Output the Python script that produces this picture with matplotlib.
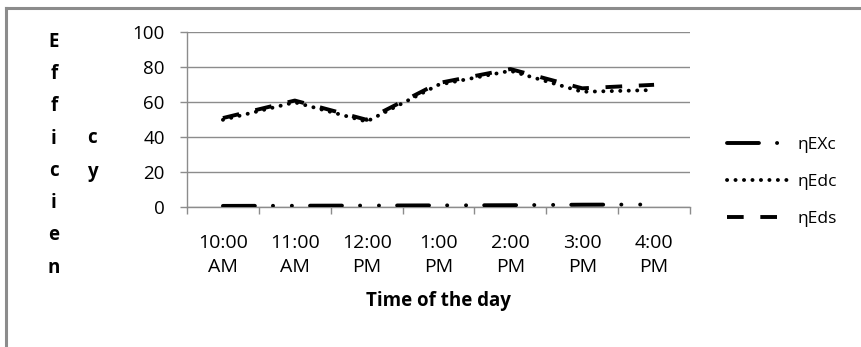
import matplotlib
matplotlib.use("Agg")
import matplotlib.pyplot as plt
from matplotlib.lines import Line2D

plt.rcParams["font.family"] = ["Open Sans", "DejaVu Sans"]
plt.rcParams["lines.scale_dashes"] = False

# Hourly efficiency readings
times = ["10:00\nAM", "11:00\nAM", "12:00\nPM", "1:00\nPM", "2:00\nPM", "3:00\nPM", "4:00\nPM"]
eta_exc = [0.8, 0.9, 1.0, 1.1, 1.2, 1.5, 1.6]
eta_edc = [50, 60, 49, 70, 78, 66, 67]
eta_eds = [51, 61, 50, 71, 79, 68, 70]
series_names = ["ηEXc", "ηEdc", "ηEds"]
y_ticks = [0, 20, 40, 60, 80, 100]

W, H = 862, 347
fig = plt.figure(figsize=(W / 100, H / 100), dpi=100)
ax = fig.add_axes([187 / W, 1 - 207.3 / H, (690 - 187) / W, (207.3 - 32.3) / H])

# Outer chart frame (only the top and left edges fall inside the image)
frame_kw = dict(color="#8c8c8c", lw=2.2, transform=fig.transFigure)
fig.add_artist(Line2D([6 / W, 6 / W], [0, 1 - 8 / H], **frame_kw))
fig.add_artist(Line2D([6 / W, 1], [1 - 8 / H, 1 - 8 / H], **frame_kw))

x = range(len(times))
lw = 2.8
ax.plot(x, eta_exc, color="black", lw=lw, dashes=(23, 13, 0.1, 13.5, 0.1, 13),
        dash_capstyle="round", label=series_names[0], zorder=3)
ax.plot(x, eta_edc, color="black", lw=lw, dashes=(0.1, 6.0),
        dash_capstyle="round", label=series_names[1], zorder=3)
ax.plot(x, eta_eds, color="black", lw=lw, dashes=(12, 12),
        dash_capstyle="butt", label=series_names[2], zorder=3)

ax.set_xlim(-0.5, len(times) - 0.5)
ax.set_ylim(0, 100)
ax.set_yticks(y_ticks)
ax.yaxis.grid(True, color="#8c8c8c", lw=1.0)
ax.set_axisbelow(True)

ax.set_xticks(list(x))
ax.set_xticklabels(times, fontsize=14, linespacing=1.45)
ax.set_xticks([i - 0.5 for i in range(len(times) + 1)], minor=True)
ax.tick_params(axis="x", which="major", length=0, pad=19)
ax.tick_params(axis="x", which="minor", length=5, color="#8c8c8c", width=1)
ax.tick_params(axis="y", length=5, color="#8c8c8c", width=1, labelsize=13.5, pad=11)

for side in ("top", "right"):
    ax.spines[side].set_visible(False)
for side in ("left", "bottom"):
    ax.spines[side].set_color("#8c8c8c")
    ax.spines[side].set_linewidth(1.0)

ax.set_xlabel("Time of the day", fontsize=13.5, fontweight="bold", labelpad=11)

# Stacked vertical axis title, wrapped into two columns
col1 = "Efficien"
col2 = "cy"
row_step = 32.3
for i, ch in enumerate(col1):
    fig.text(54 / W, 1 - (41.7 + i * row_step) / H, ch, ha="center", va="center",
             fontsize=13.5, fontweight="bold")
for i, ch in enumerate(col2):
    fig.text(92 / W, 1 - (138 + i * 34) / H, ch, ha="center", va="center",
             fontsize=13.5, fontweight="bold")

ax.legend(loc="center left", bbox_to_anchor=(727 / W, 1 - 182 / H), bbox_transform=fig.transFigure,
          frameon=False, fontsize=12.5, handlelength=3.5, handletextpad=0.55, labelspacing=1.22,
          borderaxespad=0, borderpad=0)

fig.savefig("out.png", dpi=100)
